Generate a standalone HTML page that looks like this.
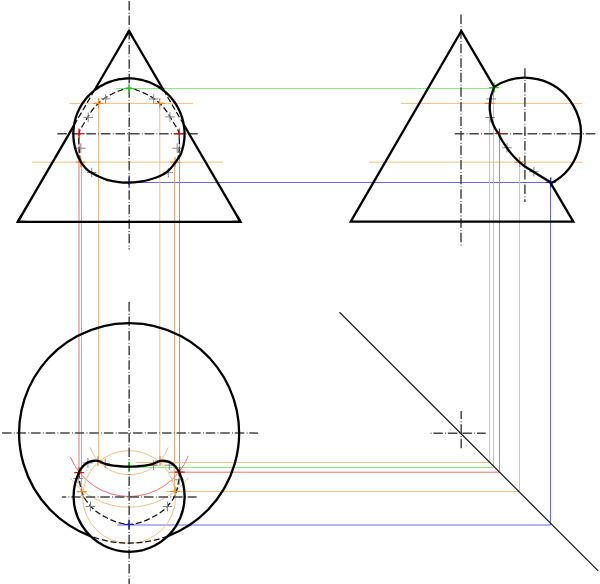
<!DOCTYPE html>
<html><head><meta charset="utf-8"><style>
html,body{margin:0;padding:0;background:#fff;overflow:hidden;}
svg{display:block;}
</style></head><body>
<svg width="600" height="584" viewBox="0 0 600 584">
<rect width="600" height="584" fill="#fff"/>
<line x1="116.2" y1="88.5" x2="494" y2="88.5" stroke="#88ec88" stroke-width="1" />
<line x1="129" y1="182.5" x2="550.6" y2="182.5" stroke="#6868dc" stroke-width="1" />
<line x1="69.2" y1="103.4" x2="192.9" y2="103.4" stroke="#f0c086" stroke-width="1" />
<line x1="401.1" y1="103.4" x2="582.2" y2="103.4" stroke="#f0c086" stroke-width="1" />
<line x1="32.2" y1="162.2" x2="223" y2="162.2" stroke="#f0c086" stroke-width="1" />
<line x1="369" y1="162.2" x2="582.8" y2="162.2" stroke="#f0c086" stroke-width="1" />
<line x1="79" y1="133.6" x2="79" y2="472.5" stroke="#ee7373" stroke-width="1" />
<line x1="179.5" y1="133.6" x2="179.5" y2="472.2" stroke="#ee7373" stroke-width="1" />
<line x1="81.5" y1="162.2" x2="81.5" y2="491.6" stroke="#e2a86c" stroke-width="1" />
<line x1="174.6" y1="162.2" x2="174.6" y2="491.5" stroke="#e2a86c" stroke-width="1" />
<line x1="98.5" y1="103.4" x2="98.5" y2="461.3" stroke="#f0c086" stroke-width="1" />
<line x1="159.8" y1="103.4" x2="159.8" y2="461.1" stroke="#f0c086" stroke-width="1" />
<line x1="489.5" y1="103.4" x2="489.5" y2="462.5" stroke="#f0c086" stroke-width="1" />
<line x1="493.5" y1="88.5" x2="493.5" y2="467.5" stroke="#88ec88" stroke-width="1" />
<line x1="499.5" y1="133.6" x2="499.5" y2="472.2" stroke="#ee7373" stroke-width="1" />
<line x1="519.5" y1="162.2" x2="519.5" y2="491.5" stroke="#f0c086" stroke-width="1" />
<line x1="550.5" y1="182.5" x2="550.5" y2="525" stroke="#6868dc" stroke-width="1" />
<line x1="136" y1="462.5" x2="489.5" y2="462.5" stroke="#f0c086" stroke-width="1" />
<line x1="120" y1="467.5" x2="493.5" y2="467.5" stroke="#88ec88" stroke-width="1" />
<line x1="168.8" y1="472.2" x2="499.5" y2="472.2" stroke="#ee7373" stroke-width="1" />
<line x1="165.8" y1="491.5" x2="519.5" y2="491.5" stroke="#f0c086" stroke-width="1" />
<line x1="117.3" y1="525" x2="550.5" y2="525" stroke="#6868dc" stroke-width="1" />
<path d="M168.19,447.33 A41.6,41.6 0 0 1 90.01,447.33" stroke="#f0c086" stroke-width="1" fill="none"/>
<path d="M188.28,477.69 A74.1,74.1 0 0 1 69.92,477.69" stroke="#f0c086" stroke-width="1" fill="none"/>
<path d="M188.29,455.82 A63.4,63.4 0 0 1 70.32,456.85" stroke="#ee7373" stroke-width="1" fill="none"/>
<circle cx="129.1" cy="497.0" r="46.4" stroke="#f0c086" stroke-width="1" fill="none"/>
<line x1="129.2" y1="1" x2="129.2" y2="249.5" stroke="#474747" stroke-width="1.5" fill="none" stroke-dasharray="9.5 2.35 0.8 1.9" stroke-dashoffset="0"/>
<line x1="57.3" y1="133.7" x2="200" y2="133.7" stroke="#474747" stroke-width="1.5" fill="none" stroke-dasharray="9.5 2.35 0.8 1.9" stroke-dashoffset="0"/>
<line x1="461" y1="14.6" x2="461" y2="245.5" stroke="#474747" stroke-width="1.5" fill="none" stroke-dasharray="9.5 2.35 0.8 1.9" stroke-dashoffset="0"/>
<line x1="524.9" y1="68.2" x2="524.9" y2="202" stroke="#474747" stroke-width="1.5" fill="none" stroke-dasharray="9.5 2.35 0.8 1.9" stroke-dashoffset="0"/>
<line x1="454.8" y1="133.8" x2="597.8" y2="133.8" stroke="#474747" stroke-width="1.5" fill="none" stroke-dasharray="9.5 2.35 0.8 1.9" stroke-dashoffset="0"/>
<line x1="129.15" y1="302" x2="129.15" y2="584" stroke="#474747" stroke-width="1.5" fill="none" stroke-dasharray="9.5 2.35 0.8 1.9" stroke-dashoffset="0"/>
<line x1="2" y1="433.1" x2="258" y2="433.1" stroke="#474747" stroke-width="1.5" fill="none" stroke-dasharray="9.5 2.35 0.8 1.9" stroke-dashoffset="0"/>
<line x1="61.9" y1="497.1" x2="196.6" y2="497.1" stroke="#474747" stroke-width="1.5" fill="none" stroke-dasharray="9.5 2.35 0.8 1.9" stroke-dashoffset="5.2"/>
<line x1="461.2" y1="411.1" x2="461.2" y2="448.4" stroke="#474747" stroke-width="1.5" fill="none" stroke-dasharray="9.5 2.35 0.8 1.9" stroke-dashoffset="1.5"/>
<line x1="429.7" y1="433.3" x2="485.7" y2="433.3" stroke="#474747" stroke-width="1.5" fill="none" stroke-dasharray="9.5 2.35 0.8 1.9" stroke-dashoffset="10.9"/>
<line x1="339.5" y1="312.2" x2="598.2" y2="570.9" stroke="#1e1e1e" stroke-width="1.3" stroke-linecap="butt"/>
<path d="M74.03,125.31L94.32,90.5" stroke="#111" stroke-width="1.25" fill="none" stroke-dasharray="6 2.7"/>
<path d="M183.77,124.72L163.94,90.79" stroke="#111" stroke-width="1.25" fill="none" stroke-dasharray="6 2.7"/>
<path d="M80.6,161.5C80.3,159.47 79.95,157.5 79.7,155.4C79.44,153.17 79.25,150.79 79.1,148.5C78.95,146.23 78.83,143.91 78.8,141.7C78.77,139.59 78.72,137.39 78.9,135.5C79.06,133.87 79.15,132.56 79.7,131C80.37,129.09 81.79,127.1 83,125C84.36,122.63 85.98,119.95 87.5,117.5C88.98,115.11 90.26,112.79 92,110.5C93.89,108.02 96.24,105.34 98.5,103.2C100.59,101.22 102.73,99.54 105,98C107.23,96.48 109.55,95.23 112,94C114.55,92.72 117.22,91.49 120,90.5C122.88,89.48 126,88 129,88C132,88 135.12,89.48 138,90.5C140.78,91.49 143.45,92.72 146,94C148.45,95.23 150.77,96.48 153,98C155.27,99.54 157.41,101.22 159.5,103.2C161.76,105.34 164.11,108.02 166,110.5C167.74,112.79 169.02,115.11 170.5,117.5C172.02,119.95 173.64,122.63 175,125C176.21,127.1 177.63,129.09 178.3,131C178.85,132.56 178.93,133.87 179.1,135.5C179.3,137.39 179.27,139.56 179.3,141.7C179.34,143.99 179.44,146.58 179.3,148.8C179.18,150.78 178.89,152.57 178.6,154.4C178.32,156.17 177.93,157.87 177.6,159.6" stroke="#111" stroke-width="1.25" fill="none" stroke-dasharray="6 2.7"/>
<path d="M167.82,536.06 A110,110 0 0 1 90.38,536.06" stroke="#111" stroke-width="1.25" fill="none" stroke-dasharray="6 2.7"/>
<path d="M78.8,472.3C78.93,474.3 78.98,476.23 79.2,478.3C79.44,480.55 79.75,483.04 80.2,485.3C80.63,487.47 81.12,489.53 81.8,491.6C82.49,493.7 83.22,495.84 84.3,497.8C85.41,499.81 86.76,501.53 88.4,503.5C90.4,505.9 92.82,508.77 95.6,511C98.59,513.41 102.41,515.44 105.9,517.3C109.28,519.1 112.5,520.84 116.2,522C120.16,523.24 124.72,524.3 129,524.3C133.29,524.3 137.91,523.24 141.9,522C145.6,520.84 148.82,519.1 152.2,517.3C155.69,515.44 159.51,513.41 162.5,511C165.28,508.77 167.7,505.9 169.7,503.5C171.34,501.53 172.69,499.81 173.8,497.8C174.88,495.84 175.61,493.7 176.3,491.6C176.98,489.53 177.47,487.47 177.9,485.3C178.35,483.04 178.66,480.55 178.9,478.3C179.12,476.23 179.17,474.3 179.3,472.3" stroke="#111" stroke-width="1.25" fill="none" stroke-dasharray="6 2.7"/>
<path d="M124.1,88.6H134.1M129.1,83.6V93.6" stroke="#22cc22" stroke-width="1.2" fill="none"/>
<path d="M124.1,182.4H134.1M129.1,177.4V187.4" stroke="#2020c0" stroke-width="1.2" fill="none"/>
<path d="M74,133.6H84M79,128.6V138.6" stroke="#d41414" stroke-width="1.2" fill="none"/>
<path d="M174.2,133.6H184.2M179.2,128.6V138.6" stroke="#d41414" stroke-width="1.2" fill="none"/>
<path d="M93.5,103.3H103.5M98.5,98.3V108.3" stroke="#ef8a2a" stroke-width="1.2" fill="none"/>
<path d="M154.7,103.3H164.7M159.7,98.3V108.3" stroke="#ef8a2a" stroke-width="1.2" fill="none"/>
<path d="M75.8,162.2H85.8M80.8,157.2V167.2" stroke="#ef8a2a" stroke-width="1.2" fill="none"/>
<path d="M170,162.2H180M175,157.2V167.2" stroke="#ef8a2a" stroke-width="1.2" fill="none"/>
<path d="M100.9,98.8H110.5M105.7,94V103.6" stroke="#858585" stroke-width="1" fill="none"/>
<path d="M148.9,99H158.5M153.7,94.2V103.8" stroke="#858585" stroke-width="1" fill="none"/>
<path d="M83.4,117.3H93M88.2,112.5V122.1" stroke="#858585" stroke-width="1" fill="none"/>
<path d="M165.2,116.9H174.8M170,112.1V121.7" stroke="#858585" stroke-width="1" fill="none"/>
<path d="M76,148.2H85.6M80.8,143.4V153" stroke="#858585" stroke-width="1" fill="none"/>
<path d="M172.4,148.2H182M177.2,143.4V153" stroke="#858585" stroke-width="1" fill="none"/>
<path d="M86.9,172.5H96.5M91.7,167.7V177.3" stroke="#858585" stroke-width="1" fill="none"/>
<path d="M163.5,172.7H173.1M168.3,167.9V177.5" stroke="#858585" stroke-width="1" fill="none"/>
<path d="M489.1,87.6H499.1M494.1,82.6V92.6" stroke="#22cc22" stroke-width="1.2" fill="none"/>
<path d="M545.7,182.3H555.7M550.7,177.3V187.3" stroke="#2020c0" stroke-width="1.2" fill="none"/>
<path d="M494.5,133.5H504.5M499.5,128.5V138.5" stroke="#d41414" stroke-width="1.2" fill="none"/>
<path d="M484.8,103.3H494.8M489.8,98.3V108.3" stroke="#ef8a2a" stroke-width="1.2" fill="none"/>
<path d="M514.6,162.1H524.6M519.6,157.1V167.1" stroke="#ef8a2a" stroke-width="1.2" fill="none"/>
<path d="M486.4,98.9H496M491.2,94.1V103.7" stroke="#858585" stroke-width="1" fill="none"/>
<path d="M485.4,117.5H495M490.2,112.7V122.3" stroke="#858585" stroke-width="1" fill="none"/>
<path d="M502.2,147.8H511.8M507,143V152.6" stroke="#858585" stroke-width="1" fill="none"/>
<path d="M529.1,171.7H538.7M533.9,166.9V176.5" stroke="#858585" stroke-width="1" fill="none"/>
<path d="M124,466.5H134M129,461.5V471.5" stroke="#22cc22" stroke-width="1.2" fill="none"/>
<path d="M124,524.5H134M129,519.5V529.5" stroke="#2020c0" stroke-width="1.2" fill="none"/>
<path d="M74.2,472.6H84.2M79.2,467.6V477.6" stroke="#d41414" stroke-width="1.2" fill="none"/>
<path d="M174.8,472.2H184.8M179.8,467.2V477.2" stroke="#d41414" stroke-width="1.2" fill="none"/>
<path d="M93,461H103M98,456V466" stroke="#ef8a2a" stroke-width="1.2" fill="none"/>
<path d="M155,461H165M160,456V466" stroke="#ef8a2a" stroke-width="1.2" fill="none"/>
<path d="M76.8,491.6H86.8M81.8,486.6V496.6" stroke="#ef8a2a" stroke-width="1.2" fill="none"/>
<path d="M170.2,491.4H180.2M175.2,486.4V496.4" stroke="#ef8a2a" stroke-width="1.2" fill="none"/>
<path d="M83.1,462.9H92.7M87.9,458.1V467.7" stroke="#858585" stroke-width="1" fill="none"/>
<path d="M100.4,463.4H110M105.2,458.6V468.2" stroke="#858585" stroke-width="1" fill="none"/>
<path d="M148.8,465.2H158.4M153.6,460.4V470" stroke="#858585" stroke-width="1" fill="none"/>
<path d="M164.5,465.2H174.1M169.3,460.4V470" stroke="#858585" stroke-width="1" fill="none"/>
<path d="M73.3,478.6H82.9M78.1,473.8V483.4" stroke="#858585" stroke-width="1" fill="none"/>
<path d="M174.5,479.8H184.1M179.3,475V484.6" stroke="#858585" stroke-width="1" fill="none"/>
<path d="M85.7,506.5H95.3M90.5,501.7V511.3" stroke="#858585" stroke-width="1" fill="none"/>
<path d="M162.7,506.5H172.3M167.5,501.7V511.3" stroke="#858585" stroke-width="1" fill="none"/>
<path d="M17.8,221.8L74.03,125.31" stroke="#000" stroke-width="2.3" fill="none" stroke-linejoin="round"/>
<path d="M94.32,90.5L129,31" stroke="#000" stroke-width="2.3" fill="none" stroke-linejoin="round"/>
<path d="M240.5,221.8L183.77,124.72" stroke="#000" stroke-width="2.3" fill="none" stroke-linejoin="round"/>
<path d="M163.94,90.79L129,31" stroke="#000" stroke-width="2.3" fill="none" stroke-linejoin="round"/>
<path d="M17.8,221.8L240.5,221.8" stroke="#000" stroke-width="2.3" fill="none" stroke-linejoin="round"/>
<path d="M125.5,37L129,31L132.5,37" stroke="#000" stroke-width="2.3" fill="none" stroke-linejoin="miter"/>
<path d="M21.3,215.8L17.8,221.8L25.8,221.8" stroke="#000" stroke-width="2.3" fill="none" stroke-linejoin="miter"/>
<path d="M237,215.8L240.5,221.8L232.5,221.8" stroke="#000" stroke-width="2.3" fill="none" stroke-linejoin="miter"/>
<path d="M80.62,161.49C80.19,160.71 79.67,159.76 79.22,158.87C78.78,157.99 78.36,157.09 77.97,156.19C77.58,155.28 77.2,154.37 76.86,153.44C76.51,152.52 76.19,151.58 75.9,150.64C75.6,149.69 75.33,148.74 75.09,147.79C74.84,146.83 74.62,145.86 74.43,144.9C74.23,143.93 74.07,142.95 73.92,141.98C73.78,141 73.67,140.02 73.58,139.03C73.49,138.05 73.43,137.06 73.39,136.07C73.35,135.09 73.34,134.1 73.36,133.11C73.37,132.12 73.42,131.13 73.48,130.15C73.55,129.16 73.65,128.18 73.77,127.2C73.89,126.22 74.04,125.24 74.21,124.27C74.38,123.29 74.58,122.33 74.8,121.36C75.03,120.4 75.28,119.45 75.56,118.5C75.83,117.55 76.13,116.61 76.46,115.67C76.78,114.74 77.13,113.82 77.51,112.9C77.88,111.99 78.28,111.08 78.71,110.19C79.13,109.3 79.58,108.42 80.05,107.55C80.52,106.68 81.01,105.82 81.53,104.98C82.04,104.14 82.58,103.31 83.14,102.49C83.7,101.68 84.28,100.88 84.88,100.1C85.49,99.31 86.11,98.55 86.75,97.8C87.4,97.05 88.06,96.31 88.74,95.6C89.42,94.88 90.13,94.19 90.85,93.51C91.56,92.83 92.3,92.18 93.06,91.54C93.81,90.9 94.58,90.28 95.37,89.69C96.16,89.09 96.96,88.51 97.78,87.96C98.6,87.4 99.43,86.87 100.28,86.36C101.12,85.85 101.99,85.37 102.86,84.9C103.73,84.44 104.62,84 105.51,83.58C106.41,83.17 107.31,82.77 108.23,82.4C109.15,82.04 110.07,81.69 111.01,81.37C111.94,81.06 112.89,80.76 113.84,80.49C114.79,80.22 115.75,79.98 116.71,79.76C117.68,79.55 118.65,79.35 119.62,79.19C120.59,79.02 121.57,78.88 122.55,78.77C123.54,78.66 124.52,78.57 125.51,78.51C126.49,78.45 127.48,78.41 128.47,78.4C129.46,78.39 130.45,78.41 131.43,78.46C132.42,78.5 133.41,78.57 134.39,78.67C135.37,78.76 136.35,78.89 137.33,79.04C138.31,79.18 139.28,79.36 140.25,79.56C141.21,79.76 142.18,79.99 143.13,80.24C144.09,80.49 145.04,80.77 145.98,81.07C146.92,81.37 147.85,81.7 148.77,82.05C149.7,82.41 150.61,82.78 151.51,83.18C152.42,83.58 153.31,84.01 154.19,84.46C155.07,84.91 155.94,85.38 156.79,85.87C157.65,86.37 158.49,86.89 159.32,87.43C160.15,87.97 160.96,88.53 161.76,89.11C162.55,89.69 163.34,90.3 164.1,90.92C164.87,91.55 165.62,92.19 166.35,92.86C167.08,93.52 167.79,94.21 168.49,94.91C169.18,95.61 169.86,96.33 170.51,97.07C171.17,97.81 171.81,98.57 172.42,99.34C173.04,100.11 173.63,100.9 174.21,101.7C174.78,102.51 175.34,103.33 175.87,104.16C176.4,105 176.9,105.84 177.39,106.7C177.87,107.56 178.34,108.44 178.77,109.32C179.21,110.21 179.63,111.11 180.02,112.01C180.41,112.92 180.78,113.84 181.12,114.77C181.46,115.69 181.78,116.63 182.07,117.57C182.36,118.52 182.63,119.47 182.87,120.43C183.11,121.39 183.33,122.35 183.51,123.32C183.7,124.29 183.87,125.27 184.01,126.24C184.14,127.22 184.26,128.21 184.34,129.19C184.43,130.17 184.49,131.16 184.52,132.15C184.55,133.13 184.56,134.12 184.54,135.11C184.52,136.1 184.47,137.09 184.4,138.07C184.33,139.06 184.23,140.04 184.1,141.02C183.98,142 183.83,142.98 183.65,143.95C183.48,144.92 183.27,145.89 183.04,146.85C182.82,147.81 182.56,148.77 182.28,149.72C182,150.66 181.7,151.6 181.37,152.54C181.04,153.47 180.89,154.21 180.31,155.3C179.31,157.19 176.72,160.56 175.3,162.5C174.31,163.86 173.58,164.8 172.7,165.9C171.85,166.97 171.08,167.99 170.1,169C169.03,170.1 167.94,171.16 166.5,172.2C164.7,173.5 162.46,174.86 160,176C157.08,177.35 153.36,178.56 150,179.5C146.7,180.42 143.43,181.07 140,181.6C136.44,182.15 132.6,182.63 129,182.7C125.54,182.77 122.24,182.52 118.8,182.1C115.21,181.67 111.28,181.05 107.9,180.1C104.82,179.23 102.09,178.05 99.3,176.8C96.52,175.55 93.49,174.03 91.2,172.6C89.37,171.45 87.85,170.35 86.5,169.1C85.29,167.97 84.28,166.58 83.4,165.5C82.71,164.66 82.09,163.93 81.6,163.2C81.2,162.6 80.97,162.12 80.62,161.49Z" stroke="#000" stroke-width="2.3" fill="none" stroke-linejoin="round"/>
<path d="M494.42,87.4L461.3,31L350.7,221.7L573.3,221.7L550.22,182.4" stroke="#000" stroke-width="2.3" fill="none" stroke-linejoin="miter"/>
<path d="M493.93,87.14 A56,56 0 1 1 551.08,183.3" stroke="#000" stroke-width="2.3" fill="none" stroke-linejoin="round"/>
<path d="M494.1,87.4C493.5,89.03 492.86,90.64 492.3,92.3C491.73,93.98 491.1,95.61 490.7,97.4C490.28,99.3 490.05,101.37 489.9,103.4C489.75,105.47 489.65,107.61 489.8,109.7C489.95,111.78 490.35,113.77 490.8,115.9C491.29,118.22 491.9,120.87 492.7,123.1C493.43,125.14 494.33,127.04 495.3,128.8C496.21,130.45 497.34,131.75 498.3,133.4C499.35,135.2 500.18,137.26 501.3,139.2C502.49,141.26 503.86,143.27 505.3,145.4C506.87,147.73 508.63,150.39 510.4,152.6C512.04,154.66 513.85,156.6 515.5,158.3C516.94,159.78 518.13,160.95 519.7,162.3C521.51,163.85 523.57,165.45 525.8,167C528.32,168.75 531.34,170.48 534.1,172.2C536.84,173.91 539.56,175.6 542.3,177.3C545.06,179 547.83,180.7 550.6,182.4" stroke="#000" stroke-width="2.3" fill="none" stroke-linejoin="round"/>
<path d="M90.38,536.06 A110,110 0 1 1 167.82,536.06" stroke="#000" stroke-width="2.3" fill="none" stroke-linejoin="round"/>
<path d="M179.11,472.24 A55.5,55.5 0 1 1 79.01,472.4" stroke="#000" stroke-width="2.3" fill="none" stroke-linejoin="round"/>
<path d="M78.8,472.3C79.53,471.13 80.2,469.92 81,468.8C81.8,467.68 82.55,466.61 83.6,465.6C84.8,464.45 86.36,463.17 87.9,462.4C89.37,461.66 90.99,461.27 92.6,461C94.22,460.73 96.07,460.56 97.6,460.8C98.98,461.02 100.09,461.68 101.4,462.2C102.82,462.77 104.11,463.57 105.8,464.1C107.94,464.77 110.78,465.23 113.3,465.6C115.82,465.97 118.32,466.12 120.9,466.3C123.56,466.49 126.29,466.7 129,466.7C131.72,466.7 134.52,466.49 137.2,466.3C139.78,466.12 142.28,465.97 144.8,465.6C147.32,465.23 150.16,464.77 152.3,464.1C153.99,463.57 155.28,462.77 156.7,462.2C158.01,461.68 159.12,461.02 160.5,460.8C162.03,460.56 163.88,460.73 165.5,461C167.11,461.27 168.73,461.66 170.2,462.4C171.74,463.17 173.3,464.45 174.5,465.6C175.55,466.61 176.3,467.68 177.1,468.8C177.9,469.92 178.57,471.13 179.3,472.3" stroke="#000" stroke-width="2.3" fill="none" stroke-linejoin="round"/>
</svg>
</body></html>
